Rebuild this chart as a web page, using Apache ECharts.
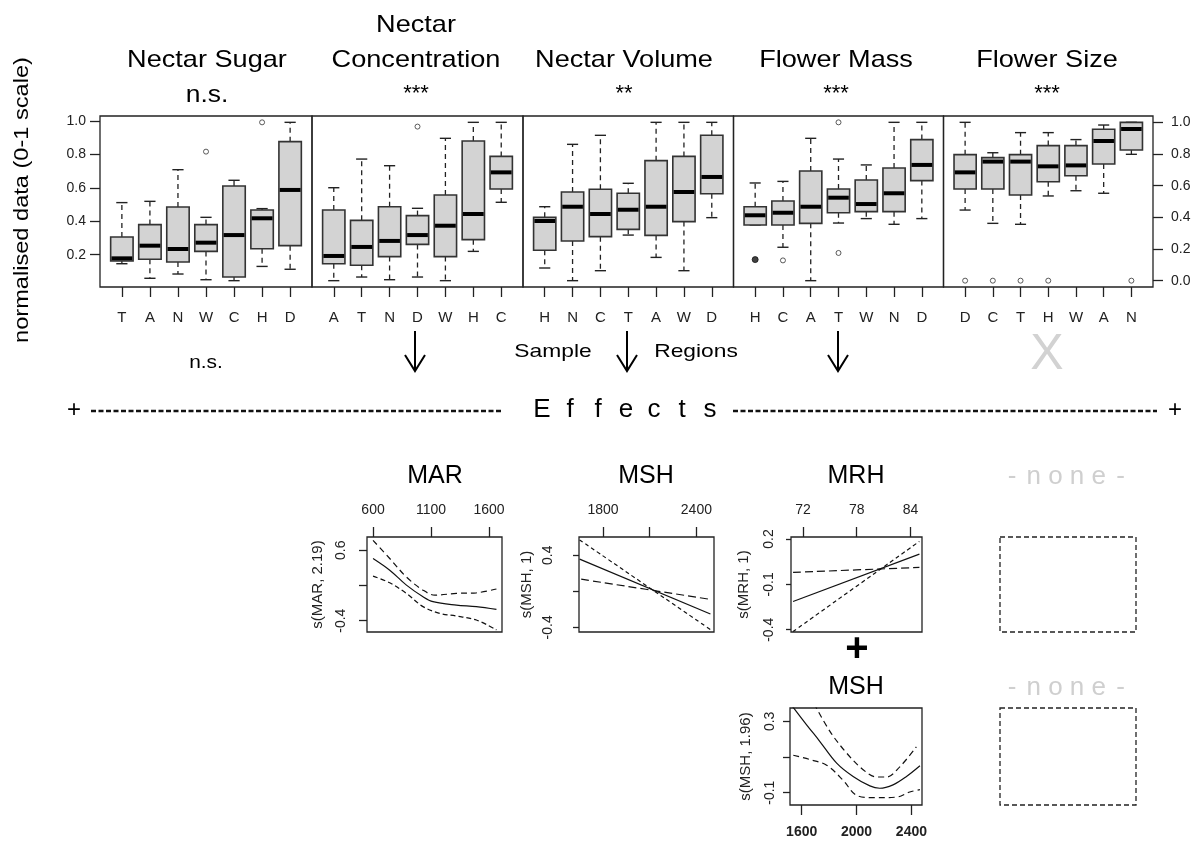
<!DOCTYPE html>
<html>
<head>
<meta charset="utf-8">
<script src="https://cdn.jsdelivr.net/npm/echarts@6/dist/echarts.min.js"></script>
<style>
  html, body { margin: 0; padding: 0; background: #fff; }
  #chart { width: 1199px; height: 841px; }
</style>
</head>
<body>
<div id="chart"></div>
<script>
// ---------------- data ----------------
// Trait panels: titles and significance of the region effect
const traitTitles = [['Nectar Sugar'], ['Nectar', 'Concentration'], ['Nectar Volume'], ['Flower Mass'], ['Flower Size']];
const traitSignif = ['n.s.', '***', '**', '***', '***'];

// Box statistics per region: [lower whisker, Q1, median, Q3, upper whisker] (normalised 0-1)
const sugarRegions = ['T', 'A', 'N', 'W', 'C', 'H', 'D'];
const sugarStats = [
  [0.107, 0.124, 0.141, 0.276, 0.493],
  [0.015, 0.135, 0.221, 0.354, 0.501],
  [0.042, 0.118, 0.200, 0.465, 0.701],
  [0.006, 0.185, 0.240, 0.354, 0.400],
  [0.000, 0.023, 0.288, 0.598, 0.634],
  [0.090, 0.202, 0.394, 0.446, 0.455],
  [0.072, 0.221, 0.573, 0.878, 1.000]
];
const sugarOutliers = [['W', 0.815, 1], ['H', 1.000, 1]];

const concRegions = ['A', 'T', 'N', 'D', 'W', 'H', 'C'];
const concStats = [
  [0.000, 0.107, 0.156, 0.446, 0.587],
  [0.023, 0.097, 0.213, 0.381, 0.768],
  [0.006, 0.152, 0.251, 0.467, 0.726],
  [0.023, 0.229, 0.288, 0.411, 0.457],
  [0.000, 0.152, 0.347, 0.541, 0.899],
  [0.185, 0.259, 0.421, 0.882, 1.000],
  [0.495, 0.579, 0.684, 0.785, 1.000]
];
const concOutliers = [['D', 0.973, 1]];

const volRegions = ['H', 'N', 'C', 'T', 'A', 'W', 'D'];
const volStats = [
  [0.080, 0.192, 0.377, 0.400, 0.467],
  [0.000, 0.251, 0.467, 0.560, 0.861],
  [0.063, 0.278, 0.421, 0.577, 0.918],
  [0.288, 0.324, 0.448, 0.552, 0.615],
  [0.147, 0.286, 0.467, 0.758, 1.000],
  [0.063, 0.373, 0.560, 0.785, 1.000],
  [0.398, 0.549, 0.655, 0.918, 1.000]
];
const volOutliers = [];

const massRegions = ['H', 'C', 'A', 'T', 'W', 'N', 'D'];
const massStats = [
  [0.352, 0.352, 0.413, 0.467, 0.617],
  [0.211, 0.352, 0.429, 0.503, 0.627],
  [0.000, 0.362, 0.467, 0.693, 0.899],
  [0.364, 0.429, 0.524, 0.579, 0.768],
  [0.392, 0.436, 0.484, 0.636, 0.731],
  [0.356, 0.436, 0.552, 0.712, 1.000],
  [0.392, 0.632, 0.731, 0.891, 1.000]
];
// third entry: number of coinciding observations
const massOutliers = [['H', 0.133, 3], ['C', 0.128, 1], ['T', 1.000, 1], ['T', 0.175, 1]];

const sizeRegions = ['D', 'C', 'T', 'H', 'W', 'A', 'N'];
const sizeStats = [
  [0.446, 0.579, 0.684, 0.796, 1.000],
  [0.362, 0.579, 0.752, 0.777, 0.808],
  [0.356, 0.541, 0.752, 0.796, 0.935],
  [0.535, 0.625, 0.722, 0.853, 0.935],
  [0.568, 0.663, 0.728, 0.853, 0.891],
  [0.552, 0.737, 0.882, 0.956, 0.983],
  [0.798, 0.825, 0.958, 1.000, 1.000]
];
const sizeOutliers = [['D', 0, 1], ['C', 0, 1], ['T', 0, 1], ['H', 0, 1], ['N', 0, 1]];

const normTicks = [0, 0.2, 0.4, 0.6, 0.8, 1.0];
const leftTicks = [0.2, 0.4, 0.6, 0.8, 1.0];

// GAM smooth terms: fitted smooth and its confidence band, as [x, s(x)]
const marFit   = [[600, 0.483], [744, 0.317], [888, 0.105], [1031, -0.060], [1117, -0.130], [1319, -0.178], [1491, -0.200], [1664, -0.240]];
const marUpper = [[600, 0.741], [744, 0.483], [888, 0.220], [1031, 0.034], [1132, -0.036], [1319, -0.012], [1491, -0.004], [1664, 0.050]];
const marLower = [[600, 0.232], [744, 0.138], [888, -0.012], [1031, -0.200], [1175, -0.295], [1319, -0.334], [1491, -0.390], [1664, -0.530]];

const mshFit   = [[1650, 0.356], [2490, -0.253]];
const mshBandA = [[1650, 0.570], [2490, -0.425]];
const mshBandB = [[1660, 0.134], [2490, -0.090]];

const mrhFit   = [[70.9, -0.213], [85.0, 0.100]];
const mrhBandA = [[70.9, -0.412], [85.0, 0.184]];
const mrhBandB = [[70.9, -0.021], [85.0, 0.012]];

const msh2Fit   = [[1525, 0.392], [1636, 0.281], [1733, 0.187], [1855, 0.066], [1975, -0.009], [2097, -0.062], [2169, -0.075], [2266, -0.056], [2364, -0.009], [2462, 0.051]];
const msh2Upper = [[1690, 0.400], [1806, 0.244], [1927, 0.123], [2048, 0.029], [2145, -0.012], [2218, -0.012], [2315, 0.045], [2436, 0.157]];
const msh2Lower = [[1539, 0.110], [1660, 0.086], [1782, 0.054], [1903, -0.031], [2000, -0.115], [2121, -0.128], [2291, -0.125], [2388, -0.096], [2462, -0.083]];

// ---------------- layout ----------------
const FONT = "'Liberation Sans', Arial, Helvetica, sans-serif";
const panels = [
  { regions: sugarRegions, stats: sugarStats, outliers: sugarOutliers },
  { regions: concRegions,  stats: concStats,  outliers: concOutliers },
  { regions: volRegions,   stats: volStats,   outliers: volOutliers },
  { regions: massRegions,  stats: massStats,  outliers: massOutliers },
  { regions: sizeRegions,  stats: sizeStats,  outliers: sizeOutliers }
];
const panelEdges = [100, 312, 523, 733.5, 943.5, 1153];
const panelTop = 116, panelHeight = 171;
const titleX = [207, 416, 624, 836, 1047];

const smoothPlots = [
  { box: [367, 537, 135, 95], title: 'MAR', titleX: 435, titleY: 476, xPos: 'top',
    xMin: 548, xMax: 1712, xTicks: [600, 1100, 1600], xLabels: [600, 1100, 1600],
    yMin: -0.56, yMax: 0.788, yTicks: [-0.4, 0.1, 0.6], yLabels: [-0.4, 0.6],
    yName: 's(MAR, 2.19)', labelMargin: 19, nameGap: 42, yTickLen: 8,
    lines: [[marFit, 'solid'], [marUpper, [6, 4]], [marLower, [5, 3]]] },
  { box: [579, 537, 135, 95], title: 'MSH', titleX: 646, titleY: 476, xPos: 'top',
    xMin: 1646, xMax: 2513, xTicks: [1800, 2100, 2400], xLabels: [1800, 2400],
    yMin: -0.452, yMax: 0.602, yTicks: [-0.4, 0, 0.4], yLabels: [-0.4, 0.4],
    yName: 's(MSH, 1)', labelMargin: 24, nameGap: 45, yTickLen: 6,
    lines: [[mshFit, 'solid'], [mshBandA, [4, 3]], [mshBandB, [8, 4]]] },
  { box: [791, 537, 131, 95], title: 'MRH', titleX: 856, titleY: 476, xPos: 'top',
    xMin: 70.67, xMax: 85.29, xTicks: [72, 78, 84], xLabels: [72, 78, 84],
    yMin: -0.415, yMax: 0.213, yTicks: [-0.4, -0.1, 0.2], yLabels: [-0.4, -0.1, 0.2],
    yName: 's(MRH, 1)', labelMargin: 15, nameGap: 40, yTickLen: 5,
    lines: [[mrhFit, 'solid'], [mrhBandA, [4, 3]], [mrhBandB, [8, 4]]] },
  { box: [790, 708, 132, 97], title: 'MSH', titleX: 856, titleY: 687, xPos: 'bottom',
    xMin: 1515, xMax: 2477, xTicks: [1600, 2000, 2400], xLabels: [1600, 2000, 2400],
    yMin: -0.169, yMax: 0.375, yTicks: [-0.1, 0.1, 0.3], yLabels: [-0.1, 0.3],
    yName: 's(MSH, 1.96)', labelMargin: 13, nameGap: 37, yTickLen: 7, boldX: true,
    lines: [[msh2Fit, 'solid'], [msh2Upper, [6, 4]], [msh2Lower, [6, 4]]] }
];

// ---------------- helpers ----------------
function txt(str, x, y, size, o) {
  o = o || {};
  return {
    type: 'text', x: x, y: y, rotation: o.rot || 0, scaleX: o.sx || 1, z: 20, silent: true,
    style: {
      text: str, fontSize: size, fontFamily: FONT, fontWeight: o.weight || 'normal',
      fill: o.color || '#000', align: 'center', verticalAlign: 'middle',
      textAlign: 'center', textVerticalAlign: 'middle'
    }
  };
}
function arrow(x, y1, y2) {
  return {
    type: 'group', silent: true, children: [
      { type: 'line', shape: { x1: x, y1: y1, x2: x, y2: y2 }, style: { stroke: '#000', lineWidth: 2 } },
      { type: 'polyline', shape: { points: [[x - 10, y2 - 16], [x, y2], [x + 10, y2 - 16]] },
        style: { stroke: '#000', lineWidth: 2, fill: null } }
    ]
  };
}
function spaced(word, x0, step, y, size, o) {
  return word.split('').map((ch, i) => txt(ch, x0 + i * step, y, size, o));
}
const fmt1 = v => (Math.round(v * 10) / 10).toFixed(1);
const fmtInt = v => String(Math.round(v));

function renderBox(params, api) {
  const x = api.value(0);
  const v = [1, 2, 3, 4, 5].map(d => api.value(d));
  const w = api.size([0.8, 0])[0];
  const cx = api.coord([x, v[2]])[0];
  const y = v.map(val => api.coord([x, val])[1]);
  const half = w / 2, cap = w / 4;
  const dash = { stroke: '#222', lineWidth: 1.3, lineDash: [5, 4] };
  const solid = { stroke: '#222', lineWidth: 1.4 };
  return {
    type: 'group', children: [
      { type: 'line', shape: { x1: cx, y1: y[3], x2: cx, y2: y[4] }, style: dash },
      { type: 'line', shape: { x1: cx, y1: y[1], x2: cx, y2: y[0] }, style: dash },
      { type: 'line', shape: { x1: cx - cap, y1: y[4], x2: cx + cap, y2: y[4] }, style: solid },
      { type: 'line', shape: { x1: cx - cap, y1: y[0], x2: cx + cap, y2: y[0] }, style: solid },
      { type: 'rect', shape: { x: cx - half, y: y[3], width: w, height: y[1] - y[3] },
        style: { fill: '#d3d3d3', stroke: '#333', lineWidth: 1.6 } },
      { type: 'line', shape: { x1: cx - half + 0.8, y1: y[2], x2: cx + half - 0.8, y2: y[2] },
        style: { stroke: '#000', lineWidth: 4 } }
    ]
  };
}

// ---------------- option ----------------
const grids = [], xAxes = [], yAxes = [], series = [];
const positions = [1, 2, 3, 4, 5, 6, 7];
const hiddenLine = { show: false, onZero: false };

panels.forEach((p, i) => {
  grids.push({ left: panelEdges[i], top: panelTop, width: panelEdges[i + 1] - panelEdges[i], height: panelHeight,
    show: true, borderColor: '#222', borderWidth: 1.3, backgroundColor: 'transparent' });
  xAxes.push({
    type: 'value', gridIndex: i, min: 0.22, max: 7.78, position: 'bottom',
    axisLine: hiddenLine, splitLine: { show: false },
    axisTick: { show: true, length: 10, customValues: positions, lineStyle: { color: '#222', width: 1.3 } },
    axisLabel: { customValues: positions, formatter: v => p.regions[Math.round(v) - 1],
      fontSize: 15, fontFamily: FONT, color: '#222', margin: 23 }
  });
  yAxes.push({
    type: 'value', gridIndex: i, min: -0.04, max: 1.04, position: 'right', show: i === 4,
    axisLine: hiddenLine, splitLine: { show: false },
    axisTick: { show: true, length: 10, customValues: normTicks, lineStyle: { color: '#222', width: 1.3 } },
    axisLabel: { customValues: normTicks, formatter: fmt1, fontSize: 14, fontFamily: FONT, color: '#222', margin: 18 }
  });
  series.push({
    type: 'custom', xAxisIndex: i, yAxisIndex: i, silent: true, renderItem: renderBox,
    encode: { x: 0, y: [1, 2, 3, 4, 5] },
    data: p.stats.map((s, k) => [k + 1].concat(s))
  });
  series.push({
    type: 'scatter', xAxisIndex: i, yAxisIndex: i, silent: true, symbol: 'circle', symbolSize: 5,
    itemStyle: { color: 'rgba(0,0,0,0)', borderColor: '#333', borderWidth: 1 },
    data: p.outliers.map(o => ({
      value: [p.regions.indexOf(o[0]) + 1, o[1]],
      itemStyle: o[2] > 1 ? { color: '#111', borderColor: '#111' } : undefined,
      symbolSize: o[2] > 1 ? 6 : 5
    }))
  });
});

// shared left scale of the normalised data
yAxes.push({
  type: 'value', gridIndex: 0, min: 0.0066, max: 1.03, position: 'left',
  axisLine: hiddenLine, splitLine: { show: false },
  axisTick: { show: true, length: 10, customValues: leftTicks, lineStyle: { color: '#222', width: 1.3 } },
  axisLabel: { customValues: leftTicks, formatter: fmt1, fontSize: 14, fontFamily: FONT, color: '#222', margin: 14 }
});

smoothPlots.forEach((sp, j) => {
  const g = grids.length;
  grids.push({ left: sp.box[0], top: sp.box[1], width: sp.box[2], height: sp.box[3],
    show: true, borderColor: '#222', borderWidth: 1.3, backgroundColor: 'transparent' });
  const xi = xAxes.length, yi = yAxes.length;
  xAxes.push({
    type: 'value', gridIndex: g, min: sp.xMin, max: sp.xMax, position: sp.xPos,
    axisLine: hiddenLine, splitLine: { show: false },
    axisTick: { show: true, length: 10, customValues: sp.xTicks, lineStyle: { color: '#222', width: 1.3 } },
    axisLabel: { customValues: sp.xLabels, formatter: fmtInt, fontSize: 14, fontFamily: FONT, color: '#222',
      margin: 20, fontWeight: sp.boldX ? 'bold' : 'normal' }
  });
  yAxes.push({
    type: 'value', gridIndex: g, min: sp.yMin, max: sp.yMax, position: 'left',
    name: sp.yName, nameLocation: 'middle', nameRotate: 90, nameGap: sp.nameGap,
    nameTextStyle: { fontSize: 15, fontFamily: FONT, color: '#222' },
    axisLine: hiddenLine, splitLine: { show: false },
    axisTick: { show: true, length: sp.yTickLen, customValues: sp.yTicks, lineStyle: { color: '#222', width: 1.3 } },
    axisLabel: { customValues: sp.yLabels, formatter: fmt1, rotate: 90, fontSize: 14, fontFamily: FONT,
      color: '#222', margin: sp.labelMargin }
  });
  sp.lines.forEach(([pts, type]) => {
    series.push({
      type: 'line', xAxisIndex: xi, yAxisIndex: yi, data: pts, showSymbol: false, silent: true,
      smooth: 0.35, clip: true,
      lineStyle: { color: '#111', width: 1.2, type: type }
    });
  });
});

// ---------------- annotations ----------------
const graphics = [];
traitTitles.forEach((t, i) => {
  if (t.length === 2) {
    graphics.push(txt(t[0], titleX[i], 25, 24, { sx: 1.13 }));
    graphics.push(txt(t[1], titleX[i], 60, 24, { sx: 1.13 }));
  } else {
    graphics.push(txt(t[0], titleX[i], 60, 24, { sx: 1.13 }));
  }
  const s = traitSignif[i];
  if (s === 'n.s.') graphics.push(txt(s, titleX[i], 95, 24, { sx: 1.1 }));
  else graphics.push(txt(s, titleX[i], 94, 22));
});
graphics.push(txt('normalised data (0-1 scale)', 22, 200, 20, { rot: Math.PI / 2, sx: 1.18 }));

graphics.push(txt('n.s.', 206, 363, 19, { sx: 1.1 }));
graphics.push(arrow(415, 331, 371));
graphics.push(arrow(627, 331, 371));
graphics.push(arrow(838, 331, 371));
graphics.push(txt('Sample', 553, 352, 19, { sx: 1.2 }));
graphics.push(txt('Regions', 696, 352, 19, { sx: 1.2 }));
graphics.push(txt('X', 1047, 355, 50, { color: '#d2d2d2' }));

// effects divider
graphics.push(txt('+', 74, 410, 24));
graphics.push(txt('+', 1175, 410, 24));
graphics.push({ type: 'line', silent: true, shape: { x1: 91, y1: 411, x2: 502, y2: 411 },
  style: { stroke: '#111', lineWidth: 2.5, lineDash: [5, 2.5] } });
graphics.push({ type: 'line', silent: true, shape: { x1: 733, y1: 411, x2: 1157, y2: 411 },
  style: { stroke: '#111', lineWidth: 2.5, lineDash: [5, 2.5] } });
graphics.push(...spaced('Effects', 542, 28, 410, 26));

smoothPlots.forEach(sp => graphics.push(txt(sp.title, sp.titleX, sp.titleY, 25)));
graphics.push(txt('+', 857, 650, 40, { weight: 'bold' }));

// empty model slots for flower size
[[477, 537], [688, 708]].forEach(([ty, by]) => {
  graphics.push(...spaced('-none-', 1012, 21.7, ty, 26, { color: '#cfcfcf' }));
  graphics.push({ type: 'rect', silent: true, shape: { x: 1000, y: by, width: 136, height: by === 537 ? 95 : 97 },
    style: { fill: null, stroke: '#222', lineWidth: 1.3, lineDash: [5, 3] } });
});

const option = {
  animation: false,
  backgroundColor: '#fff',
  grid: grids,
  xAxis: xAxes,
  yAxis: yAxes,
  series: series,
  graphic: { elements: graphics }
};

const chart = echarts.init(document.getElementById('chart'));
chart.setOption(option);
</script>
</body>
</html>
